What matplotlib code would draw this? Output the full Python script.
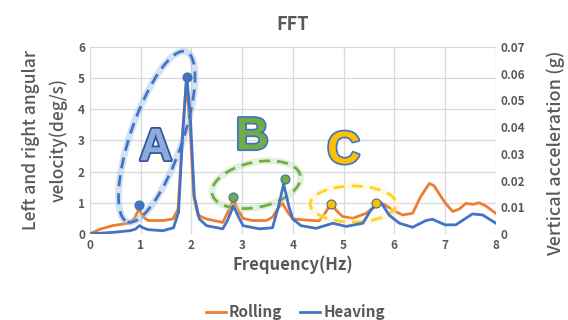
"""FFT of rolling and heaving motion."""

import matplotlib
matplotlib.use("Agg")
import matplotlib.pyplot as plt
import matplotlib.patches as mpatches
import matplotlib.patheffects as pe
import matplotlib.transforms as mtransforms

# Rolling: left/right angular velocity (deg/s)
rolling_freq = [0, 0.2, 0.46, 0.79, 0.88, 0.97, 1.05, 1.15, 1.44, 1.64, 1.74, 1.82,
                1.9, 1.97, 2.05, 2.13, 2.3, 2.62, 2.72, 2.83, 2.93, 3.02, 3.2, 3.48,
                3.6, 3.7, 3.79, 3.9, 4.0, 4.39, 4.52, 4.65, 4.75, 4.86, 4.98, 5.18,
                5.44, 5.6, 5.7, 5.8, 5.96, 6.16, 6.36, 6.52, 6.69, 6.78, 6.88, 7.0,
                7.15, 7.28, 7.41, 7.55, 7.67, 7.8, 8.0]
rolling_vel = [0, 0.15, 0.27, 0.35, 0.5, 0.8, 0.55, 0.43, 0.43, 0.48, 0.8, 3.0,
               4.85, 3.6, 1.2, 0.6, 0.48, 0.37, 0.7, 1.1, 0.75, 0.5, 0.43, 0.43,
               0.54, 0.8, 1.0, 0.7, 0.48, 0.43, 0.42, 0.7, 0.98, 0.75, 0.56, 0.5,
               0.66, 0.85, 0.98, 0.95, 0.77, 0.61, 0.66, 1.2, 1.62, 1.55, 1.3, 1.0,
               0.72, 0.8, 0.98, 0.95, 1.0, 0.9, 0.66]

# Heaving: vertical acceleration (g)
heaving_freq = [0, 0.46, 0.79, 0.9, 0.98, 1.05, 1.15, 1.44, 1.65, 1.75, 1.83, 1.91,
                1.98, 2.06, 2.16, 2.3, 2.62, 2.72, 2.83, 2.93, 3.02, 3.34, 3.6,
                3.72, 3.82, 3.92, 4.0, 4.16, 4.46, 4.79, 5.05, 5.38, 5.54, 5.66,
                5.74, 5.9, 6.1, 6.36, 6.62, 6.75, 7.0, 7.21, 7.54, 7.74, 8.0]
heaving_acc = [0, 0.0006, 0.0012, 0.0018, 0.0031, 0.0023, 0.0016, 0.0012, 0.0023,
               0.0082, 0.0373, 0.0595, 0.0443, 0.014, 0.0056, 0.0031, 0.0019,
               0.0053, 0.0105, 0.0064, 0.0031, 0.0019, 0.0023, 0.0105, 0.0187,
               0.0105, 0.0056, 0.0031, 0.0021, 0.004, 0.0028, 0.004, 0.009, 0.0114,
               0.0117, 0.007, 0.004, 0.0025, 0.005, 0.0055, 0.0034, 0.0034, 0.0075,
               0.0071, 0.004]

# Highlighted peaks (frequency, left-axis value) per group
peaks_a = ([0.97, 1.91], [0.93, 5.04])
peaks_b = ([2.83, 3.84], [1.2, 1.75])
peaks_c = ([4.75, 5.64], [0.96, 1.0])

ORANGE = "#ED7D31"
BLUE = "#4472C4"
GRAY = "#595959"

plt.rcParams["font.family"] = ["Noto Sans CJK JP", "DejaVu Sans"]

fig = plt.figure(figsize=(5.68, 3.2), dpi=100)
ax = fig.add_axes([0.158, 0.269, 0.715, 0.584])
ax2 = ax.twinx()

ax.plot(rolling_freq, rolling_vel, color=ORANGE, lw=2, label="Rolling",
        solid_joinstyle="round")
ax2.plot(heaving_freq, heaving_acc, color=BLUE, lw=2, label="Heaving",
         solid_joinstyle="round")

ax.set_xlim(0, 8)
ax.set_ylim(0, 6)
ax2.set_ylim(0, 0.07)
ax.set_xticks(range(0, 9))
ax.set_yticks(range(0, 7))
ax2.set_yticks([0, 0.01, 0.02, 0.03, 0.04, 0.05, 0.06, 0.07])
ax2.set_yticklabels(["0", "0.01", "0.02", "0.03", "0.04", "0.05", "0.06", "0.07"])

for a in (ax, ax2):
    for s in a.spines.values():
        s.set_visible(False)
    a.tick_params(length=0, colors=GRAY, labelsize=8.5)
    for lab in a.get_xticklabels() + a.get_yticklabels():
        lab.set_fontweight("bold")
ax.grid(True, color="#D9D9D9", lw=0.9)
ax.set_axisbelow(True)

ax.set_title("FFT", color=GRAY, fontsize=13, fontweight="bold", pad=12)
ax.set_xlabel("Frequency(Hz)", color=GRAY, fontsize=12, fontweight="bold", labelpad=3)
ax.set_ylabel("Left and right angular\nvelocity(deg/s)", color=GRAY, fontsize=12.5,
              fontweight="medium", linespacing=1.6)
ax.yaxis.set_label_coords(-0.055, 0.5)
ax2.set_ylabel("Vertical acceleration (g)", color=GRAY, fontsize=13,
               fontweight="medium")
ax2.yaxis.set_label_coords(1.125, 0.43)

h1, l1 = ax.get_legend_handles_labels()
h2, l2 = ax2.get_legend_handles_labels()
leg = fig.legend(h1 + h2, l1 + l2, loc="center", bbox_to_anchor=(0.52, 0.025), ncol=2,
                 frameon=False, fontsize=11, handlelength=1.3, handletextpad=0.2,
                 columnspacing=1.2)
for t in leg.get_texts():
    t.set_color(GRAY)
    t.set_fontweight("bold")


def ring(cx, cy, w, h, angle, color, glow):
    """Dashed ellipse sized in inches, centred on a data point."""
    trans = fig.dpi_scale_trans + mtransforms.ScaledTranslation(cx, cy, ax.transData)
    ax2.add_patch(mpatches.Ellipse((0, 0), w, h, angle=angle, fill=False, ec=glow,
                                   lw=5, alpha=0.45, transform=trans))
    ax2.add_patch(mpatches.Ellipse((0, 0), w, h, angle=angle, fill=False, ec=color,
                                   lw=2, ls=(0, (4, 2.5)), transform=trans))


ring(1.32, 3.12, 0.52, 1.8, -19, BLUE, "#9DC3E6")
ring(3.28, 1.58, 0.9, 0.45, 12, "#70AD47", "#C5E0B4")
ring(5.19, 0.96, 0.86, 0.36, 0, "#FFD320", "#FFF2CC")

for (fx, fy), fc in ((peaks_a, BLUE), (peaks_b, "#70AD47"), (peaks_c, "#FFC000")):
    ax2.plot(fx, fy, "o", ms=6.5, mfc=fc, mec="#41719C", mew=0.8,
             transform=ax.transData, zorder=5)

letters = [("A", 1.3, 2.75, "#8FAADC", "#2F5597"),
           ("B", 3.2, 3.1, "#70AD47", BLUE),
           ("C", 5.0, 2.65, "#FFC000", BLUE)]
for ch, x, y, fc, ec in letters:
    ax2.text(x, y, ch, transform=ax.transData, fontsize=33, fontweight="bold",
             color=fc, ha="center", va="center", family="Liberation Sans",
             path_effects=[pe.withStroke(linewidth=2.5, foreground=ec)], zorder=6)

fig.savefig("out.png", dpi=100)
